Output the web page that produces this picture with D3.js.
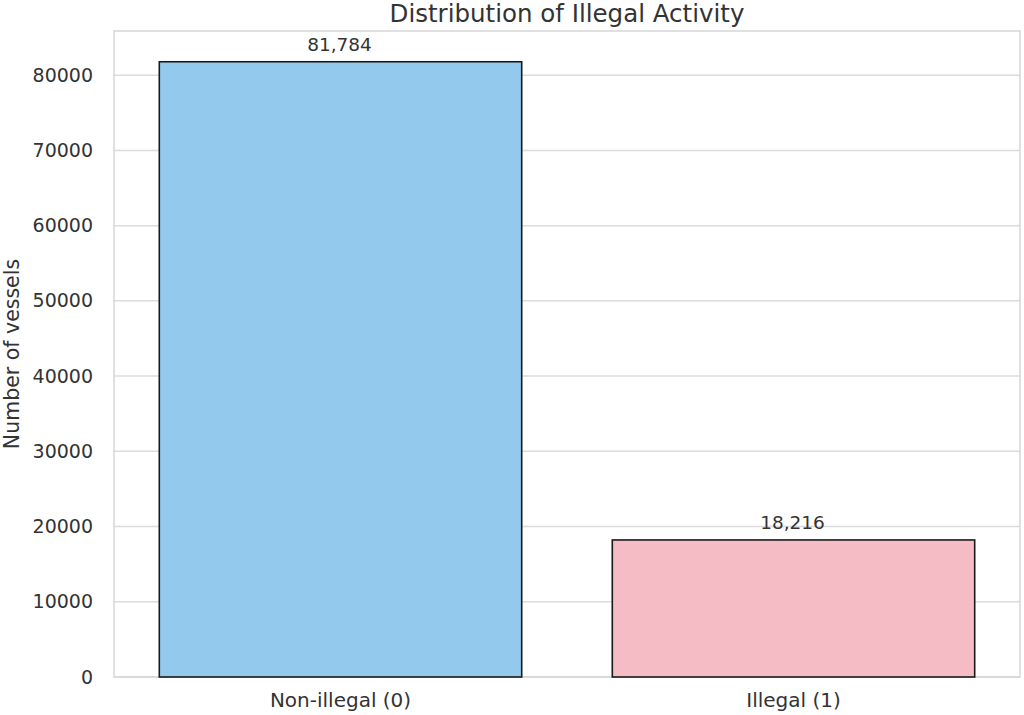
<!DOCTYPE html>
<html>
<head>
<meta charset="utf-8">
<script src="https://cdn.jsdelivr.net/npm/d3@7"></script>
<style>
  html, body { margin: 0; padding: 0; background: #fff; }
  svg { display: block; font-family: "DejaVu Sans", sans-serif; }
</style>
</head>
<body>
<svg id="chart" width="1024" height="715"></svg>
<script>
const categories = ["Non-illegal (0)", "Illegal (1)"];
const counts = [81784, 18216];
const barColors = ["#93c9ec", "#f5bcc6"];
const yTicks = [0, 10000, 20000, 30000, 40000, 50000, 60000, 70000, 80000];
const titleText = "Distribution of Illegal Activity";
const yLabelText = "Number of vessels";

const svg = d3.select("#chart");
const margin = { left: 114, right: 1020, top: 31, bottom: 677 };

const x = d3.scaleBand()
  .domain(categories)
  .range([margin.left, margin.right])
  .paddingInner(0.2)
  .paddingOuter(0.1);

const yMax = d3.max(counts) * 1.05;
const y = d3.scaleLinear().domain([0, yMax]).range([margin.bottom, margin.top]);

// grid
svg.append("g")
  .selectAll("line")
  .data(yTicks)
  .join("line")
  .attr("x1", margin.left).attr("x2", margin.right)
  .attr("y1", d => y(d)).attr("y2", d => y(d))
  .attr("stroke", "#dcdcdc").attr("stroke-width", 1.5);

// frame
svg.append("rect")
  .attr("x", margin.left).attr("y", margin.top)
  .attr("width", margin.right - margin.left)
  .attr("height", margin.bottom - margin.top)
  .attr("fill", "none").attr("stroke", "#d6d6d6").attr("stroke-width", 1.5);

// bars
svg.append("g")
  .selectAll("rect")
  .data(categories)
  .join("rect")
  .attr("x", d => x(d))
  .attr("width", x.bandwidth())
  .attr("y", (d, i) => y(counts[i]))
  .attr("height", (d, i) => y(0) - y(counts[i]))
  .attr("fill", (d, i) => barColors[i])
  .attr("stroke", "#1a1a1a").attr("stroke-width", 1.6);

// bar labels
svg.append("g")
  .selectAll("text")
  .data(categories)
  .join("text")
  .attr("x", d => x(d) + x.bandwidth() / 2 - 1)
  .attr("y", (d, i) => y(counts[i]) - 11)
  .attr("text-anchor", "middle")
  .attr("font-size", 18.5)
  .attr("fill", "#333")
  .text((d, i) => d3.format(",")(counts[i]));

// y axis
const yAxis = d3.axisLeft(y).tickValues(yTicks).tickFormat(d3.format("d")).tickSize(0).tickPadding(21);
const gy = svg.append("g").attr("transform", `translate(${margin.left},0)`).call(yAxis);
gy.select(".domain").remove();
gy.selectAll("text").attr("font-size", 19).attr("fill", "#333").attr("font-family", "DejaVu Sans, sans-serif");

// x axis
const xAxis = d3.axisBottom(x).tickSize(0).tickPadding(16);
const gx = svg.append("g").attr("transform", `translate(0,${margin.bottom})`).call(xAxis);
gx.select(".domain").remove();
gx.selectAll("text").attr("font-size", 20).attr("fill", "#333").attr("font-family", "DejaVu Sans, sans-serif");

// title
svg.append("text")
  .attr("x", (margin.left + margin.right) / 2)
  .attr("y", 22)
  .attr("text-anchor", "middle")
  .attr("font-size", 24.5)
  .attr("fill", "#333")
  .text(titleText);

// y label
svg.append("text")
  .attr("transform", `translate(19,${(margin.top + margin.bottom) / 2}) rotate(-90)`)
  .attr("text-anchor", "middle")
  .attr("font-size", 20.5)
  .attr("fill", "#333")
  .text(yLabelText);
</script>
</body>
</html>
